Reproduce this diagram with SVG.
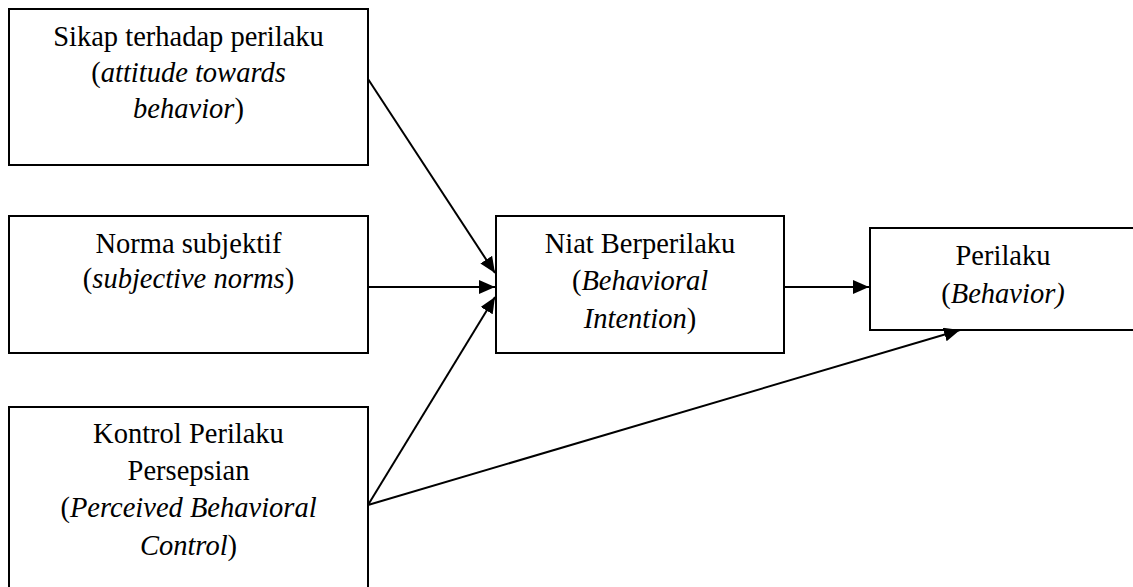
<svg xmlns="http://www.w3.org/2000/svg" width="1133" height="587" viewBox="0 0 1133 587">
<defs>
<style>
.box{fill:#fff;stroke:#000;stroke-width:2}
.t{font-family:'Liberation Serif','Times New Roman',Tinos,'DejaVu Serif',serif;font-size:28.5px;fill:#000;text-anchor:middle}
.i{font-style:italic}
.c{stroke:#000;stroke-width:2;fill:none}
</style>
<marker id="ah" markerUnits="userSpaceOnUse" markerWidth="16" markerHeight="14" viewBox="0 0 16 14" refX="16" refY="7" orient="auto">
<path d="M0,0 L16,7 L0,14 Z" fill="#000"/>
</marker>
</defs>
<rect width="1133" height="587" fill="#fff"/>
<g id="n1">
<rect class="box" x="9" y="9" width="359" height="156"/>
<text class="t" x="188.5" y="46">Sikap terhadap perilaku</text>
<text class="t" x="188.5" y="82">(<tspan class="i">attitude towards</tspan></text>
<text class="t" x="188.5" y="118"><tspan class="i">behavior</tspan>)</text>
</g>
<g id="n2">
<rect class="box" x="9" y="216" width="359" height="137"/>
<text class="t" x="188.5" y="253">Norma subjektif</text>
<text class="t" x="188.5" y="288">(<tspan class="i">subjective norms</tspan>)</text>
</g>
<g id="n3">
<rect class="box" x="9" y="407" width="359" height="190"/>
<text class="t" x="188.5" y="443">Kontrol Perilaku</text>
<text class="t" x="188.5" y="480">Persepsian</text>
<text class="t" x="188.5" y="517">(<tspan class="i">Perceived Behavioral</tspan></text>
<text class="t" x="188.5" y="555"><tspan class="i">Control</tspan>)</text>
</g>
<g id="n4">
<rect class="box" x="496" y="216" width="288" height="137"/>
<text class="t" x="640" y="253">Niat Berperilaku</text>
<text class="t" x="640" y="290">(<tspan class="i">Behavioral</tspan></text>
<text class="t" x="640" y="328"><tspan class="i">Intention</tspan>)</text>
</g>
<g id="n5">
<rect class="box" x="870" y="228" width="280" height="102"/>
<text class="t" x="1003" y="265">Perilaku</text>
<text class="t" x="1003" y="303">(<tspan class="i">Behavior)</tspan></text>
</g>
<g id="connectors">
<line class="c" x1="368" y1="79" x2="495" y2="273" marker-end="url(#ah)"/>
<line class="c" x1="368" y1="287" x2="495" y2="287" marker-end="url(#ah)"/>
<line class="c" x1="368" y1="505" x2="495" y2="297" marker-end="url(#ah)"/>
<line class="c" x1="784" y1="287" x2="869" y2="287" marker-end="url(#ah)"/>
<line class="c" x1="368" y1="505" x2="960" y2="330" marker-end="url(#ah)"/>
</g>
</svg>
